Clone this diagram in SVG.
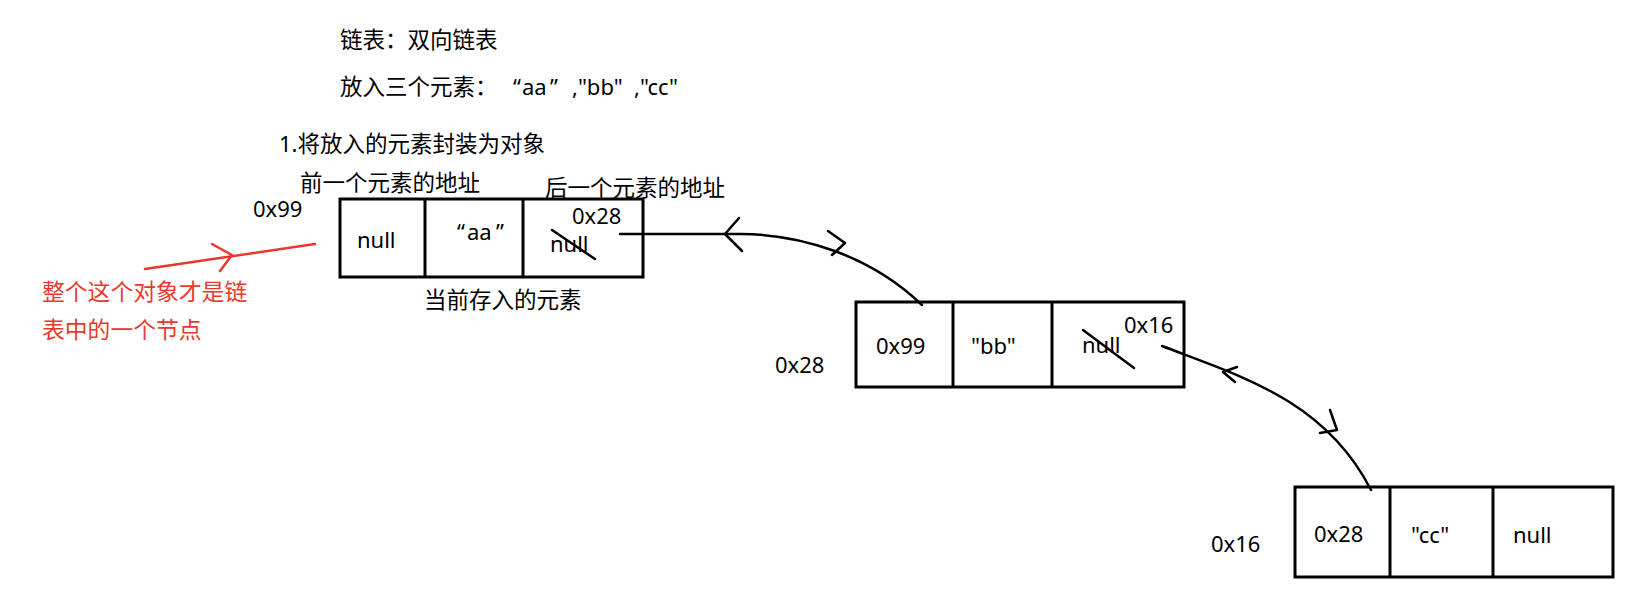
<svg xmlns="http://www.w3.org/2000/svg" width="1639" height="605" viewBox="0 0 1639 605">
<style>
text{font-family:"Noto Sans","Noto Sans CJK SC",sans-serif;font-size:22px;fill:#000}
.cjk{font-family:"Noto Sans CJK SC","Noto Sans",sans-serif;font-size:22.5px}
.red{fill:#e8392c;font-size:22.8px}
.box{fill:none;stroke:#000;stroke-width:3}
.ln{fill:none;stroke:#000;stroke-width:2.5;stroke-linecap:round;stroke-linejoin:round}
.rl{fill:none;stroke:#e8392c;stroke-width:2.5;stroke-linecap:round;stroke-linejoin:round}
</style>
<rect width="1639" height="605" fill="#fff"/>
<g id="header">
<text class="cjk" x="340" y="48">链表：双向链表</text>
<text x="340" y="95"><tspan class="cjk">放入三个元素：</tspan><tspan x="513">“</tspan><tspan x="522">aa</tspan><tspan x="550">”</tspan><tspan x="572">,"bb"</tspan><tspan x="634">,"cc"</tspan></text>
<text x="279" y="152">1.<tspan class="cjk">将放入的元素封装为对象</tspan></text>
<text class="cjk" x="300" y="191">前一个元素的地址</text>
<text class="cjk" x="545" y="196">后一个元素的地址</text>
<text class="cjk" x="424" y="308">当前存入的元素</text>
</g>
<g id="node-aa">
<text x="253" y="217">0x99</text>
<rect class="box" x="340" y="199" width="303" height="78"/>
<line class="box" x1="425" y1="199" x2="425" y2="277"/>
<line class="box" x1="523" y1="199" x2="523" y2="277"/>
<text x="357" y="248">null</text>
<text x="457" y="240"><tspan>“</tspan><tspan x="467">aa</tspan><tspan x="496">”</tspan></text>
<text x="572" y="224">0x28</text>
<text x="550" y="252">null</text>
<line class="ln" x1="552" y1="230" x2="595" y2="259"/>
</g>
<g id="node-bb">
<text x="775" y="373">0x28</text>
<rect class="box" x="856" y="302" width="328" height="85"/>
<line class="box" x1="953" y1="302" x2="953" y2="387"/>
<line class="box" x1="1052" y1="302" x2="1052" y2="387"/>
<text x="876" y="354">0x99</text>
<text x="971" y="354">"bb"</text>
<text x="1082" y="353">null</text>
<text x="1124" y="333">0x16</text>
<line class="ln" x1="1083" y1="330" x2="1134" y2="368"/>
</g>
<g id="node-cc">
<text x="1211" y="552">0x16</text>
<rect class="box" x="1295" y="487" width="318" height="90"/>
<line class="box" x1="1390" y1="487" x2="1390" y2="577"/>
<line class="box" x1="1493" y1="487" x2="1493" y2="577"/>
<text x="1314" y="542">0x28</text>
<text x="1411" y="543">"cc"</text>
<text x="1513" y="543">null</text>
</g>
<g id="note">
<text class="cjk red" x="42" y="300">整个这个对象才是链</text>
<text class="cjk red" x="42" y="338">表中的一个节点</text>
</g>
<g id="connectors">
<path class="ln" d="M620,234 L740,234 C800,234 870,255 922,305"/>
<polyline class="ln" points="739,218 725,234 742,251"/>
<polyline class="ln" points="828,231 845,243 832,255"/>
<path class="ln" d="M1162,346 C1240,376 1325,400 1371,490"/>
<polyline class="ln" points="1237,367 1223,372 1235,382"/>
<polyline class="ln" points="1330,410 1337,430 1320,433"/>
<path class="rl" d="M145,269 L315,244"/>
<polyline class="rl" points="212,244 232,255 220,271"/>
</g>
</svg>
